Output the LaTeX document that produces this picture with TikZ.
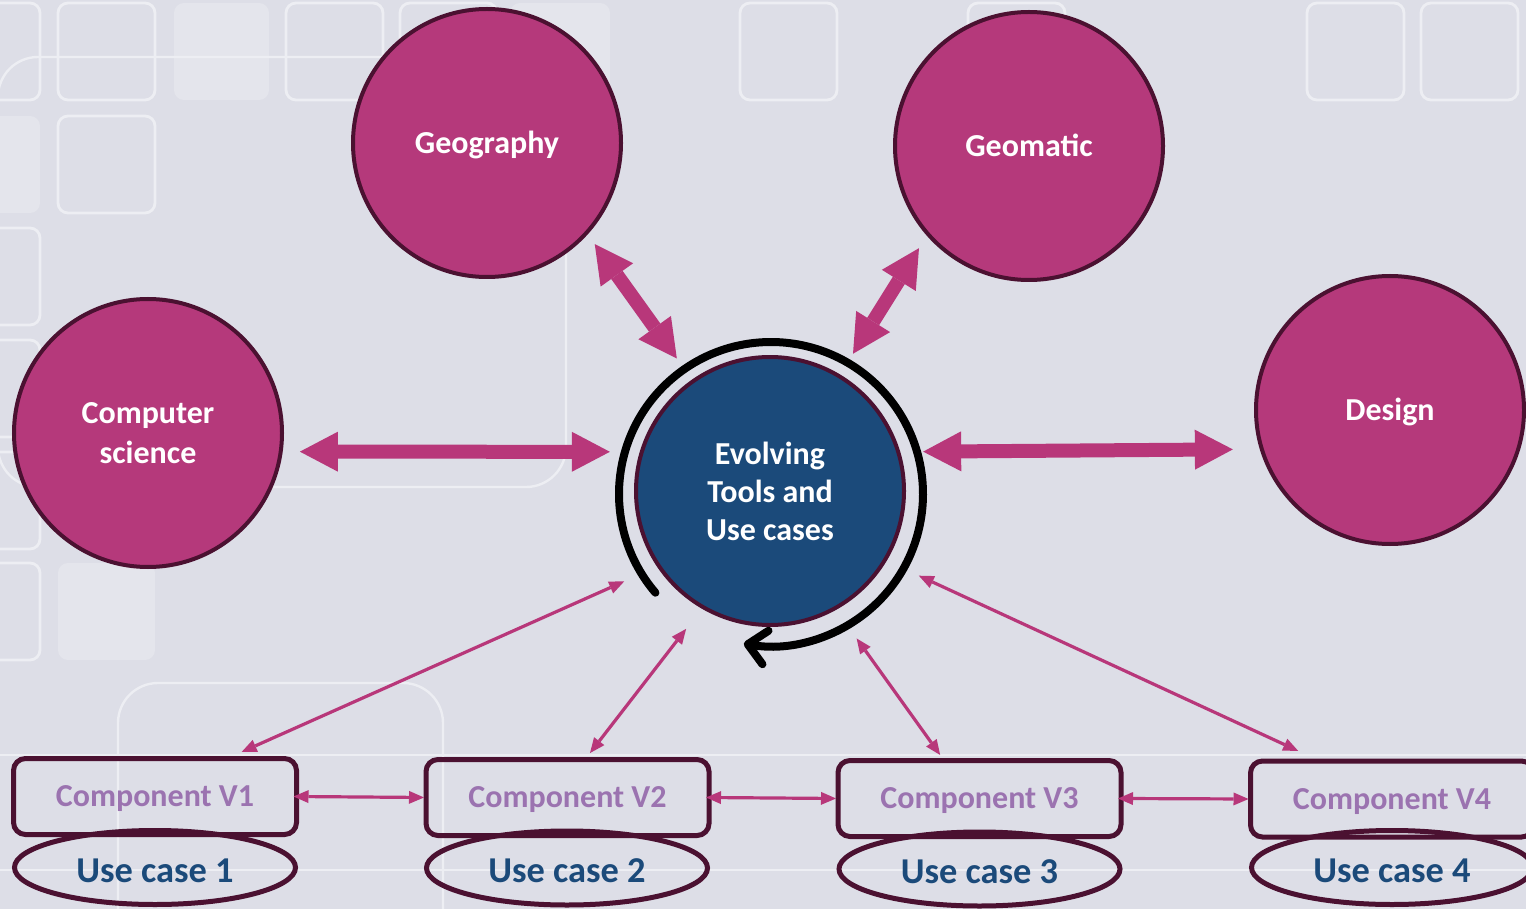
\documentclass[tikz,border=0pt]{standalone}
\usepackage{fontspec}
\setmainfont{Carlito}
\usetikzlibrary{arrows.meta,shapes.geometric,calc}
\definecolor{bgcol}{HTML}{DDDEE7}
\definecolor{bgline}{HTML}{EDEEF3}
\definecolor{bgfill}{HTML}{E4E5EC}
\definecolor{pinkfill}{HTML}{B5397B}
\definecolor{pinkarrow}{HTML}{B8377A}
\definecolor{darkrim}{HTML}{4B1131}
\definecolor{navyblue}{HTML}{1B4A7A}
\definecolor{lavender}{HTML}{9B73B0}
\begin{document}
\begin{tikzpicture}[x=0.5pt,y=-0.5pt,
  disc/.style={circle, draw=darkrim, line width=2pt, fill=pinkfill, minimum size=134pt,
    inner sep=0pt, outer sep=0pt, text=white, align=center,
    font=\bfseries\fontsize{16}{20}\selectfont},
  single/.style={text height=13.5pt, text depth=3.2pt},
  core/.style={disc, fill=navyblue, font=\bfseries\fontsize{16}{19}\selectfont},
  comp/.style={rectangle, rounded corners=6pt, draw=darkrim, line width=2.5pt,
    minimum width=141.5pt, minimum height=38pt, inner sep=0pt, outer sep=0pt,
    text=lavender, font=\bfseries\fontsize{16}{19}\selectfont,
    text height=13.5pt, text depth=3.2pt},
  usecase/.style={ellipse, draw=darkrim, line width=2.5pt, minimum width=140.5pt,
    minimum height=37pt, inner sep=0pt, outer sep=0pt, text=navyblue,
    font=\bfseries\fontsize{18.2}{22}\selectfont, text height=15pt, text depth=0.4pt},
  bigarrow/.style={draw=pinkarrow, line width=7pt,
    {Triangle[length=19pt,width=20pt,line width=0pt]}-{Triangle[length=19pt,width=20pt,line width=0pt]}},
  thinarrow/.style={draw=pinkarrow, line width=1.6pt,
    {Triangle[length=7.5pt,width=6.5pt,line width=0pt]}-{Triangle[length=7.5pt,width=6.5pt,line width=0pt]}},
  bgbox/.style={draw=bgline, line width=1.4pt, rounded corners=5pt},
  bgsolid/.style={fill=bgfill, rounded corners=5pt},
  bgbig/.style={draw=bgline, line width=1.2pt, rounded corners=20pt}
]
\useasboundingbox (0,0) rectangle (1526,909);
\clip (0,0) rectangle (1526,909);
\fill[bgcol] (-5,-5) rectangle (1531,914);

% background pattern
\fill[bgsolid] (174,3) rectangle (269,100);
\fill[bgsolid] (510,3) rectangle (610,100);
\fill[bgsolid] (-10,116) rectangle (40,213);
\fill[bgsolid] (58,563) rectangle (155,660);
\draw[bgbox] (-10,3) rectangle (40,100);
\draw[bgbox] (58,3) rectangle (155,100);
\draw[bgbox] (286,3) rectangle (383,100);
\draw[bgbox] (400,3) rectangle (497,100);
\draw[bgbox] (740,3) rectangle (837,100);
\draw[bgbox] (968,3) rectangle (1065,100);
\draw[bgbox] (1307,3) rectangle (1404,100);
\draw[bgbox] (1421,3) rectangle (1518,100);
\draw[bgbox] (58,116) rectangle (155,213);
\draw[bgbox] (-10,228) rectangle (40,325);
\draw[bgbox] (-10,340) rectangle (40,437);
\draw[bgbox] (-10,452) rectangle (40,549);
\draw[bgbox] (-10,563) rectangle (40,660);
\draw[bgbig] (-2,57) rectangle (566,487);
\draw[bgbig] (118,683) rectangle (443,960);
\draw[bgline, line width=1pt] (0,755) -- (1526,755);
\draw[bgline, line width=1pt] (0,870) -- (1526,870);

% discipline circles
\node[disc, single] (geo)  at (487,143)  {Geography};
\node[disc, single] (geom) at (1029,146) {Geomatic};
\node[disc] (cs)   at (148,433)  {Computer\\science};
\node[disc, single] (des)  at (1390,410) {Design};
\node[core] (evo)  at (770,491)  {Evolving\\Tools and\\Use cases};

% evolving ring
\draw[line width=4pt, line cap=round, -{Straight Barb[length=9pt,width=17pt,round]}]
  ([shift={(220.5:76pt)}, xshift=0.5pt, yshift=-1.5pt]evo.center)
  arc[start angle=220.5, end angle=-100.3, radius=76pt];

% components and use cases
\node[comp] (v1) at (155,796.5)  {Component V1};
\node[comp] (v2) at (567.5,797.5) {Component V2};
\node[comp] (v3) at (979.5,798.5) {Component V3};
\node[comp] (v4) at (1392,799)   {Component V4};
\node[usecase] (u1) at (155,867.5)  {Use case 1};
\node[usecase] (u2) at (567,868)    {Use case 2};
\node[usecase] (u3) at (979.5,869)  {Use case 3};
\node[usecase] (u4) at (1392,867.5) {Use case 4};

% thick arrows
\draw[bigarrow, shorten <=9.6pt, shorten >=16pt] (cs.-8) -- (evo.163);
\draw[bigarrow, shorten <=12.5pt, shorten >=14.5pt] (evo.17) -- (des.197);
\draw[bigarrow, shorten <=7pt, shorten >=14pt] (geo.-42) -- (evo.125);
\draw[bigarrow, shorten <=8.4pt, shorten >=13.2pt] (geom.221) -- (evo.59);

% thin arrows
\draw[thinarrow, shorten <=19pt, shorten >=8pt] (evo.214) -- ([xshift=36pt]v1.north);
\draw[thinarrow, shorten <=13.8pt, shorten >=4.1pt] (evo.240) -- ([xshift=8.75pt]v2.north);
\draw[thinarrow, shorten <=18.6pt, shorten >=3.4pt] (evo.-61) -- ([xshift=-17.7pt]v3.north);
\draw[thinarrow, shorten <=18.7pt, shorten >=12pt] (evo.-31) -- ([xshift=-36pt]v4.north);
\draw[thinarrow, shorten <=-1.5pt, shorten >=1pt] (v1.east) -- (v2.west);
\draw[thinarrow, shorten <=-1.5pt, shorten >=1pt] (v2.east) -- (v3.west);
\draw[thinarrow, shorten <=-1.5pt, shorten >=1pt] (v3.east) -- (v4.west);
\end{tikzpicture}
\end{document}
